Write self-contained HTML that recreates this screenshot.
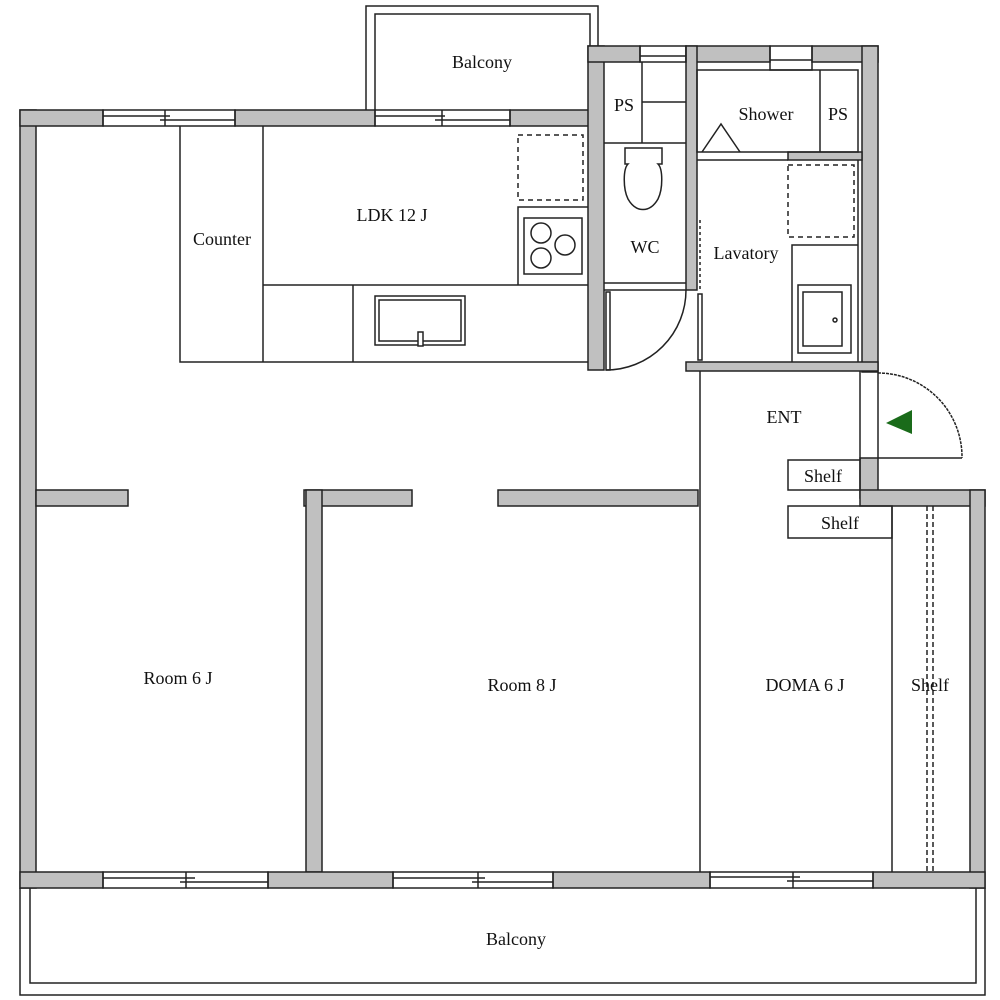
<!DOCTYPE html>
<html><head><meta charset="utf-8"><style>
html,body{margin:0;padding:0;background:#fff;}
svg{display:block;}
text{font-family:"Liberation Serif",serif;font-size:18px;fill:#111;text-anchor:middle;}
</style></head><body>
<svg width="1000" height="1000" viewBox="0 0 1000 1000" xmlns="http://www.w3.org/2000/svg">
<g fill="#c0c0c0" stroke="#222" stroke-width="1.5">
<!-- left outer wall -->
<rect x="20" y="110" width="16" height="778"/>
<!-- top walls -->
<rect x="20" y="110" width="83" height="16"/>
<rect x="235" y="110" width="140" height="16"/>
<rect x="510" y="110" width="80" height="16"/>
<!-- WC/lav block walls -->
<rect x="588" y="46" width="16" height="324"/>
<rect x="588" y="46" width="52" height="16"/>
<rect x="686" y="46" width="84" height="16"/>
<rect x="812" y="46" width="66" height="16"/>
<rect x="686" y="46" width="11" height="244"/>
<rect x="862" y="46" width="16" height="326"/>
<rect x="686" y="362" width="192" height="9"/>
<rect x="697" y="152" width="0" height="0"/>
<rect x="788" y="152" width="74" height="8"/>
<!-- ent walls -->
<rect x="860" y="458" width="18" height="40"/>
<rect x="860" y="490" width="125" height="16"/>
<rect x="970" y="490" width="15" height="398"/>
<!-- interior walls -->
<rect x="36" y="490" width="92" height="16"/>
<rect x="304" y="490" width="108" height="16"/>
<rect x="306" y="490" width="16" height="382"/>
<rect x="498" y="490" width="200" height="16"/>
<!-- bottom wall -->
<rect x="20" y="872" width="83" height="16"/>
<rect x="268" y="872" width="125" height="16"/>
<rect x="553" y="872" width="157" height="16"/>
<rect x="873" y="872" width="112" height="16"/>
</g>
<g fill="none" stroke="#222" stroke-width="1.5">
<!-- windows -->
<rect x="103" y="110" width="132" height="16"/><line x1="103" y1="116" x2="170" y2="116"/><line x1="160" y1="120" x2="235" y2="120"/><line x1="165" y1="110" x2="165" y2="126"/>
<rect x="375" y="110" width="135" height="16"/><line x1="375" y1="116" x2="445" y2="116"/><line x1="435" y1="120" x2="510" y2="120"/><line x1="442" y1="110" x2="442" y2="126"/>
<rect x="640" y="46" width="46" height="16"/><line x1="640" y1="56" x2="686" y2="56"/>
<rect x="770" y="46" width="42" height="24"/><line x1="770" y1="60" x2="812" y2="60"/>
<rect x="103" y="872" width="165" height="16"/><line x1="103" y1="878" x2="195" y2="878"/><line x1="180" y1="882" x2="268" y2="882"/><line x1="186" y1="872" x2="186" y2="888"/>
<rect x="393" y="872" width="160" height="16"/><line x1="393" y1="878" x2="485" y2="878"/><line x1="472" y1="882" x2="553" y2="882"/><line x1="478" y1="872" x2="478" y2="888"/>
<rect x="710" y="872" width="163" height="16"/><line x1="710" y1="877" x2="800" y2="877"/><line x1="787" y1="881" x2="873" y2="881"/><line x1="793" y1="872" x2="793" y2="888"/>
<!-- top balcony -->
<polyline points="366,110 366,6 598,6 598,46"/>
<polyline points="375,110 375,14 590,14 590,46"/>
<!-- bottom balcony -->
<polyline points="20,888 20,995 985,995 985,888"/>
<polyline points="30,888 30,983 976,983 976,888"/>
<!-- kitchen -->
<polyline points="180,126 180,362 588,362"/>
<line x1="263" y1="126" x2="263" y2="362"/>
<line x1="263" y1="285" x2="588" y2="285"/>
<line x1="353" y1="285" x2="353" y2="362"/>
<rect x="375" y="296" width="90" height="49"/><rect x="379" y="300" width="82" height="41"/>
<rect x="418" y="332" width="5" height="14" fill="#fff"/>
<rect x="518" y="135" width="65" height="65" stroke-dasharray="5,4"/>
<polyline points="518,285 518,207 588,207"/>
<rect x="524" y="218" width="58" height="56"/>
<circle cx="541" cy="233" r="10"/><circle cx="565" cy="245" r="10"/><circle cx="541" cy="258" r="10"/>
<!-- WC -->
<line x1="642" y1="62" x2="642" y2="143"/>
<line x1="642" y1="102" x2="686" y2="102"/>
<line x1="604" y1="143" x2="686" y2="143"/>
<path d="M625,148 h37 v16 h-4 c5,5 5,25 0,35 c-8,14 -22,14 -30,0 c-5,-10 -5,-30 0,-35 h-3 z"/>
<line x1="604" y1="283" x2="686" y2="283"/><line x1="604" y1="290" x2="686" y2="290"/>
<rect x="606" y="292" width="4" height="78"/>
<path d="M686,290 A80,80 0 0 1 606,370"/>
<!-- shower -->
<rect x="697" y="70" width="161" height="82"/>
<line x1="820" y1="70" x2="820" y2="152"/>
<polyline points="702,152 721,124 740,152"/>
<line x1="697" y1="160" x2="788" y2="160"/>
<!-- lavatory -->
<line x1="858" y1="160" x2="858" y2="362"/>
<rect x="788" y="165" width="66" height="72" stroke-dasharray="5,4"/>
<polyline points="792,362 792,245 858,245"/>
<rect x="798" y="285" width="53" height="68"/><rect x="803" y="292" width="39" height="54"/>
<circle cx="835" cy="320" r="2"/>
<line x1="700" y1="220" x2="700" y2="290" stroke-dasharray="3,3"/>
<rect x="698" y="294" width="4" height="66"/>
<!-- ENT -->
<line x1="700" y1="371" x2="700" y2="872"/>
<line x1="860" y1="371" x2="860" y2="460"/>
<line x1="878" y1="372" x2="878" y2="458"/>
<line x1="878" y1="458" x2="962" y2="458"/>
<path d="M878,373 A84,84 0 0 1 962,458" stroke-dasharray="3,1"/>
<rect x="788" y="460" width="72" height="30"/>
<rect x="788" y="506" width="104" height="32"/>
<line x1="892" y1="506" x2="892" y2="872"/>
<line x1="927" y1="506" x2="927" y2="872" stroke-dasharray="5,3"/>
<line x1="933" y1="506" x2="933" y2="872" stroke-dasharray="5,3"/>
</g>
<polygon points="886,423 912,410 912,434" fill="#1a6b1a"/>
<text x="482" y="68">Balcony</text>
<text x="392" y="221">LDK 12 J</text>
<text x="222" y="245">Counter</text>
<text x="624" y="111">PS</text>
<text x="766" y="120">Shower</text>
<text x="838" y="120">PS</text>
<text x="645" y="253">WC</text>
<text x="746" y="259">Lavatory</text>
<text x="784" y="423">ENT</text>
<text x="823" y="482">Shelf</text>
<text x="840" y="529">Shelf</text>
<text x="178" y="684">Room 6 J</text>
<text x="522" y="691">Room 8 J</text>
<text x="805" y="691">DOMA 6 J</text>
<text x="930" y="691">Shelf</text>
<text x="516" y="945">Balcony</text>
</svg>
</body></html>
